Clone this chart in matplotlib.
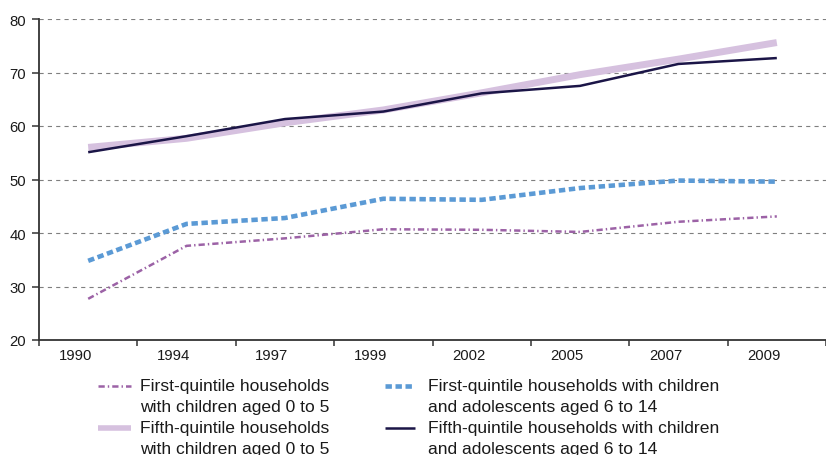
import matplotlib
matplotlib.use("Agg")
import matplotlib.pyplot as plt
from matplotlib.lines import Line2D
import matplotlib.transforms as mtransforms
import numpy as np

years = ["1990", "1994", "1997", "1999", "2002", "2005", "2007", "2009"]
q1_0_5 = [27.7, 37.6, 39.0, 40.7, 40.6, 40.2, 42.1, 43.1]
q1_6_14 = [34.8, 41.7, 42.8, 46.4, 46.2, 48.4, 49.8, 49.6]
q5_0_5 = [56.0, 57.7, 60.6, 63.0, 66.2, 69.6, 72.5, 75.6]
q5_6_14 = [55.1, 58.1, 61.3, 62.7, 66.1, 67.5, 71.6, 72.7]

labels = [
    ["First-quintile households", "with children aged 0 to 5"],
    ["Fifth-quintile households", "with children aged 0 to 5"],
    ["First-quintile households with children", "and adolescents aged 6 to 14"],
    ["Fifth-quintile households with children", "and adolescents aged 6 to 14"],
]

c_purple = "#9c62a6"
c_lav = "#d6c1df"
c_blue = "#5b9ad5"
c_navy = "#1b1547"

plt.rcParams["font.family"] = ["Liberation Sans", "DejaVu Sans"]
plt.rcParams["lines.scale_dashes"] = False

W, H = 826, 456
fig = plt.figure(figsize=(W / 100, H / 100), dpi=100)
ax = fig.add_axes([39 / W, 1 - 341 / H, 1 - 39 / W, (341 - 20) / H])

x = np.arange(len(years))

styles = {
    "q1_0_5": dict(color=c_purple, lw=1.8, dashes=(4.5, 2.2, 1.0, 2.2), solid_capstyle="butt", dash_capstyle="butt"),
    "q5_0_5": dict(color=c_lav, lw=5.0, solid_capstyle="butt"),
    "q1_6_14": dict(color=c_blue, lw=3.3, dashes=(4.6, 2.6), dash_capstyle="butt"),
    "q5_6_14": dict(color=c_navy, lw=1.8, solid_capstyle="butt"),
}

ax.plot(x, q5_0_5, zorder=3, **styles["q5_0_5"])
ax.plot(x, q5_6_14, zorder=4, **styles["q5_6_14"])
ax.plot(x, q1_6_14, zorder=3, **styles["q1_6_14"])
ax.plot(x, q1_0_5, zorder=3, **styles["q1_0_5"])

ax.set_ylim(20, 80)
ax.set_xlim(-0.5, 7.47)
ax.set_yticks([20, 30, 40, 50, 60, 70, 80])
for v in [30, 40, 50, 60, 70, 80]:
    ax.axhline(v, color="#7f7f7f", lw=0.8, dashes=(3, 3), zorder=1)

ax.set_xticks(x)
ax.set_xticklabels(years)
ax.set_xticks(np.arange(len(years) + 1) - 0.5, minor=True)
ax.tick_params(axis="x", which="major", length=0, pad=5.5, labelsize=10.7, colors="#1a1a1a")
ax.tick_params(axis="x", which="minor", length=4, width=1.1, direction="out", color="#333333")
ax.tick_params(axis="y", length=5, width=1.1, pad=4.5, labelsize=10.7, colors="#1a1a1a", color="#333333")
offset = mtransforms.ScaledTranslation(-13 / 100, 0, fig.dpi_scale_trans)
for lbl in ax.get_xticklabels():
    lbl.set_transform(lbl.get_transform() + offset)

for s in ["top", "right"]:
    ax.spines[s].set_visible(False)
for s in ["left", "bottom"]:
    ax.spines[s].set_color("#333333")
    ax.spines[s].set_linewidth(1.3)

# legend (manual, handles aligned with first text line)
order = ["q1_0_5", "q5_0_5", "q1_6_14", "q5_6_14"]
hx = [(98, 131), (98, 131), (385, 415), (385, 415)]
tx = [140, 140, 428, 428]
base = [391, 433, 391, 433]
for k, key in enumerate(order):
    st = dict(styles[key])
    if key == "q5_0_5":
        st["lw"] = 4.0
    y_h = base[k] - 3.8
    ln = Line2D([hx[k][0] / W, hx[k][1] / W], [1 - y_h / H, 1 - y_h / H],
                transform=fig.transFigure, **st)
    fig.add_artist(ln)
    for j, line in enumerate(labels[k]):
        fig.text(tx[k] / W, 1 - (base[k] + 21 * j) / H, line, fontsize=12.6,
                 color="#1a1a1a", va="baseline", ha="left")

fig.savefig("out.png", dpi=100)
